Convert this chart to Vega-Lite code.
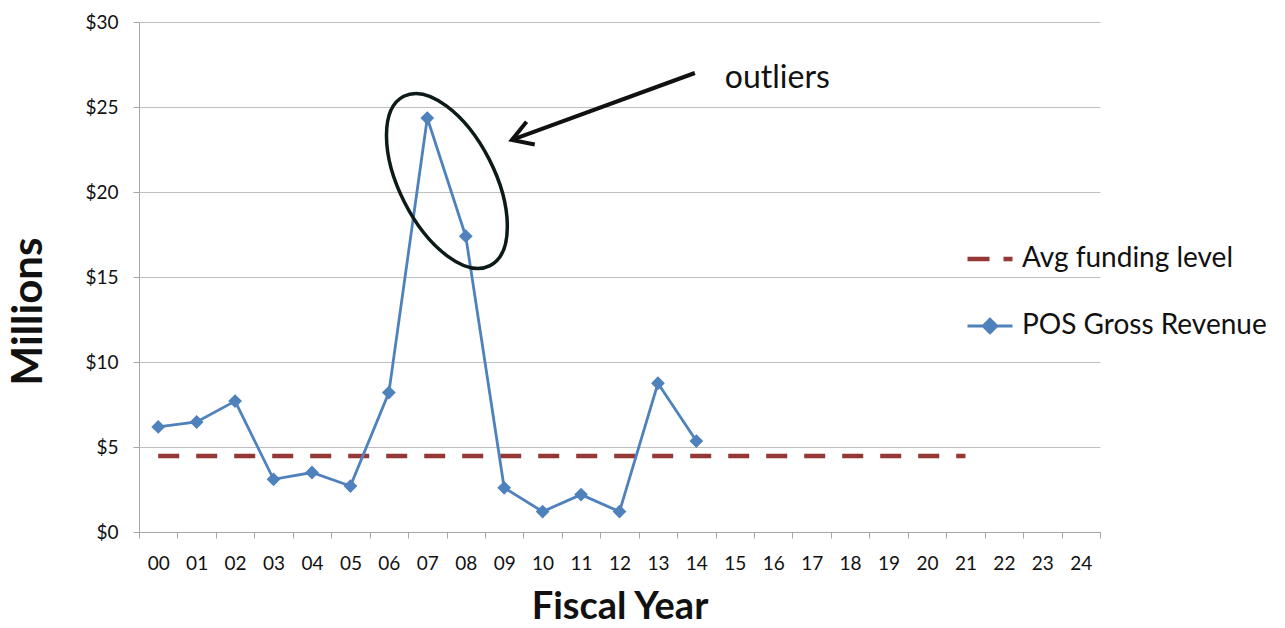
{
  "$schema": "https://vega.github.io/schema/vega-lite/v6.json",
  "width": 961,
  "height": 510,
  "autosize": {"type": "none"},
  "padding": {"left": 139, "top": 22, "right": 185, "bottom": 96},
  "background": "white",
  "config": {
    "view": {"stroke": null},
    "font": "Lato",
    "axis": {"labelOverlap": false}
  },
  "datasets": {
    "series": [
      {"year": 0, "series": "POS Gross Revenue", "value": 6.18},
      {"year": 1, "series": "POS Gross Revenue", "value": 6.47},
      {"year": 2, "series": "POS Gross Revenue", "value": 7.7},
      {"year": 3, "series": "POS Gross Revenue", "value": 3.1},
      {"year": 4, "series": "POS Gross Revenue", "value": 3.5},
      {"year": 5, "series": "POS Gross Revenue", "value": 2.7},
      {"year": 6, "series": "POS Gross Revenue", "value": 8.2},
      {"year": 7, "series": "POS Gross Revenue", "value": 24.35},
      {"year": 8, "series": "POS Gross Revenue", "value": 17.4},
      {"year": 9, "series": "POS Gross Revenue", "value": 2.6},
      {"year": 10, "series": "POS Gross Revenue", "value": 1.2},
      {"year": 11, "series": "POS Gross Revenue", "value": 2.2},
      {"year": 12, "series": "POS Gross Revenue", "value": 1.2},
      {"year": 13, "series": "POS Gross Revenue", "value": 8.75},
      {"year": 14, "series": "POS Gross Revenue", "value": 5.35},
      {"year": 0, "series": "Avg funding level", "value": 4.47},
      {"year": 1, "series": "Avg funding level", "value": 4.47},
      {"year": 2, "series": "Avg funding level", "value": 4.47},
      {"year": 3, "series": "Avg funding level", "value": 4.47},
      {"year": 4, "series": "Avg funding level", "value": 4.47},
      {"year": 5, "series": "Avg funding level", "value": 4.47},
      {"year": 6, "series": "Avg funding level", "value": 4.47},
      {"year": 7, "series": "Avg funding level", "value": 4.47},
      {"year": 8, "series": "Avg funding level", "value": 4.47},
      {"year": 9, "series": "Avg funding level", "value": 4.47},
      {"year": 10, "series": "Avg funding level", "value": 4.47},
      {"year": 11, "series": "Avg funding level", "value": 4.47},
      {"year": 12, "series": "Avg funding level", "value": 4.47},
      {"year": 13, "series": "Avg funding level", "value": 4.47},
      {"year": 14, "series": "Avg funding level", "value": 4.47},
      {"year": 15, "series": "Avg funding level", "value": 4.47},
      {"year": 16, "series": "Avg funding level", "value": 4.47},
      {"year": 17, "series": "Avg funding level", "value": 4.47},
      {"year": 18, "series": "Avg funding level", "value": 4.47},
      {"year": 19, "series": "Avg funding level", "value": 4.47},
      {"year": 20, "series": "Avg funding level", "value": 4.47},
      {"year": 21, "series": "Avg funding level", "value": 4.47}
    ],
    "ellipse": [{"x": 7.51, "y": 20.65}],
    "arrow": [{"x": 13.96, "y": 27.0, "x2": 9.2, "y2": 23.06}],
    "label": [{"x": 14.74, "y": 26.7, "text": "outliers"}]
  },
  "layer": [
    {
      "data": {"name": "series"},
      "transform": [{"filter": "datum.series === 'Avg funding level'"}],
      "mark": {"type": "line", "strokeDash": [21, 17], "strokeWidth": 4.5},
      "encoding": {
        "x": {
          "field": "year", "type": "quantitative",
          "scale": {"domain": [-0.5, 24.5], "nice": false, "zero": false},
          "axis": {
            "values": [-0.5, 0.5, 1.5, 2.5, 3.5, 4.5, 5.5, 6.5, 7.5, 8.5, 9.5, 10.5, 11.5, 12.5, 13.5, 14.5, 15.5, 16.5, 17.5, 18.5, 19.5, 20.5, 21.5, 22.5, 23.5, 24.5],
            "tickCount": 40,
            "labelExpr": "datum.value > 24 ? '' : format(datum.value + 0.5, '02d')",
            "labelOffset": 19.2,
            "labelFlush": false,
            "labelOverlap": false,
            "labelBound": false,
            "labelFontSize": 19,
            "labelColor": "#111111",
            "labelPadding": 16,
            "tickSize": 6,
            "tickColor": "#A6A6A6",
            "domainColor": "#A6A6A6",
            "grid": false,
            "title": "Fiscal Year",
            "titleFontSize": 38,
            "titleFontWeight": "bold",
            "titleColor": "#111111",
            "titleY": 75,
            "titleBaseline": "middle"
          }
        },
        "y": {
          "field": "value", "type": "quantitative",
          "scale": {"domain": [0, 30], "nice": false},
          "axis": {
            "values": [0, 5, 10, 15, 20, 25, 30],
            "tickCount": 40,
            "labelExpr": "'$' + datum.value",
            "labelFontSize": 19,
            "labelColor": "#111111",
            "labelPadding": 15,
            "tickSize": 6,
            "tickColor": "#A6A6A6",
            "domainColor": "#A6A6A6",
            "gridColor": "#BFBFBF",
            "gridWidth": 1.2,
            "title": "Millions",
            "titleFontSize": 42,
            "titleFontWeight": "bold",
            "titleColor": "#111111",
            "titleAngle": -90,
            "titleX": -111,
            "titleY": 289,
            "titleBaseline": "middle",
            "titleAlign": "center"
          }
        },
        "color": {
          "field": "series", "type": "nominal",
          "scale": {"domain": ["Avg funding level", "POS Gross Revenue"], "range": ["#953735", "#4F81BD"]},
          "legend": {
            "title": null,
            "orient": "none",
            "legendX": 837,
            "legendY": 223,
            "labelFontSize": 28,
            "labelColor": "#111111",
            "labelFont": "Lato",
            "labelOffset": 18,
            "labelLimit": 400,
            "rowPadding": 39,
            "symbolSize": 2025,
            "encode": {
              "symbols": {
                "update": {
                  "shape": {"signal": "datum.value === 'POS Gross Revenue' ? 'M-1,0L1,0M-0.3,0L0,-0.3L0.3,0L0,0.3Z' : 'stroke'"},
                  "strokeDash": {"signal": "datum.value === 'Avg funding level' ? [22, 14] : [1, 0]"},
                  "fill": {"signal": "datum.value === 'POS Gross Revenue' ? '#4F81BD' : 'transparent'"},
                  "strokeWidth": {"signal": "datum.value === 'Avg funding level' ? 4.5 : 3"}
                }
              }
            }
          }
        }
      }
    },
    {
      "data": {"name": "series"},
      "transform": [{"filter": "datum.series === 'POS Gross Revenue'"}],
      "mark": {"type": "line", "strokeWidth": 2.8},
      "encoding": {
        "x": {"field": "year", "type": "quantitative"},
        "y": {"field": "value", "type": "quantitative"},
        "color": {"field": "series", "type": "nominal"}
      }
    },
    {
      "data": {"name": "series"},
      "transform": [{"filter": "datum.series === 'POS Gross Revenue'"}],
      "mark": {"type": "point", "shape": "diamond", "filled": true, "size": 190, "opacity": 1},
      "encoding": {
        "x": {"field": "year", "type": "quantitative"},
        "y": {"field": "value", "type": "quantitative"},
        "color": {"field": "series", "type": "nominal"}
      }
    },
    {
      "data": {"name": "ellipse"},
      "mark": {"type": "point", "shape": "M0,-1A0.5,1 0 1,1 0,1A0.5,1 0 1,1 0,-1Z", "size": 36100, "angle": 333, "filled": false, "stroke": "#0d1a1a", "strokeWidth": 3.5, "opacity": 1},
      "encoding": {
        "x": {"field": "x", "type": "quantitative"},
        "y": {"field": "y", "type": "quantitative"}
      }
    },
    {
      "data": {"name": "arrow"},
      "mark": {"type": "rule", "color": "#111111", "strokeWidth": 4},
      "encoding": {
        "x": {"field": "x", "type": "quantitative"},
        "y": {"field": "y", "type": "quantitative"},
        "x2": {"field": "x2"},
        "y2": {"field": "y2"}
      }
    },
    {
      "data": {"name": "arrow"},
      "mark": {"type": "point", "shape": "M-1,-0.6L0,0L-1,0.6", "size": 1600, "angle": 160, "filled": false, "stroke": "#111111", "strokeWidth": 4, "opacity": 1},
      "encoding": {
        "x": {"field": "x2", "type": "quantitative"},
        "y": {"field": "y2", "type": "quantitative"}
      }
    },
    {
      "data": {"name": "label"},
      "mark": {"type": "text", "align": "left", "baseline": "middle", "fontSize": 32, "font": "Lato", "color": "#111111"},
      "encoding": {
        "x": {"field": "x", "type": "quantitative"},
        "y": {"field": "y", "type": "quantitative"},
        "text": {"field": "text"}
      }
    }
  ]
}
